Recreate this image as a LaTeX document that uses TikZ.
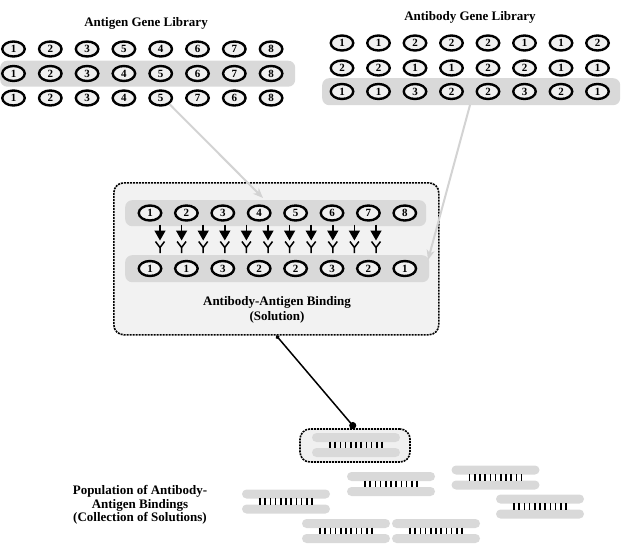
\documentclass[tikz,border=0pt]{standalone}
\usepackage{fontspec}
\setmainfont{Liberation Serif}
\usetikzlibrary{shapes.geometric,arrows.meta}
\definecolor{bandgray}{HTML}{D9D9D9}
\definecolor{ovalfill}{HTML}{F0F0F0}
\definecolor{boxfill}{HTML}{F2F2F2}
\definecolor{linkgray}{HTML}{D3D3D3}
\begin{document}
\begin{tikzpicture}[x=1pt,y=-1pt,
  gene/.style={ellipse,draw=black,line width=2.4pt,fill=ovalfill,minimum width=22.5pt,minimum height=15pt,inner sep=0pt,font=\fontsize{11}{11}\selectfont\bfseries},
  bandbox/.style={fill=bandgray,rounded corners=7pt,draw=none,inner sep=0pt,anchor=north west},
  titletext/.style={font=\fontsize{13}{15}\selectfont\bfseries,align=center,inner sep=0pt},
  dashbox/.style={draw=black,dash pattern=on 2pt off 1pt,line width=1.6pt,fill=boxfill,rounded corners=10pt,inner sep=0pt},
  graylink/.style={draw=linkgray,line width=2pt,-{Stealth[length=10pt,width=8pt,inset=3pt]}},
  bar/.style={fill=bandgray,rounded corners=4.5pt,minimum width=88pt,minimum height=9pt,inner sep=0pt},
  tick/.style={line width=1.6pt},
  binding/.pic={
    \node[bar] (-top) at (0,-7.5) {};
    \node[bar] (-bot) at (0,7.5) {};
    \foreach \k in {0,...,10} \draw[tick] ({-26+5.2*\k},-3.3) -- ++(0,6.6);
  }]
\useasboundingbox (0,0) rectangle (631,544);

% ---------- Antigen gene library ----------
\node[titletext] (agtitle) at (146,23) {Antigen Gene Library};
\node[bandbox,minimum width=295pt,minimum height=26pt] (agband) at (0,60.5) {};
\foreach \d [count=\i] in {1,2,3,5,4,6,7,8}
  \node[gene] (ag1-\i) at ({13.5+36.8*(\i-1)},49) {\d};
\foreach \d [count=\i] in {1,2,3,4,5,6,7,8}
  \node[gene] (ag2-\i) at ({13.5+36.8*(\i-1)},73.5) {\d};
\foreach \d [count=\i] in {1,2,3,4,5,7,6,8}
  \node[gene] (ag3-\i) at ({13.5+36.8*(\i-1)},98) {\d};

% ---------- Antibody gene library ----------
\node[titletext] (abtitle) at (470,17) {Antibody Gene Library};
\node[bandbox,minimum width=298pt,minimum height=27pt] (abband) at (322,78) {};
\foreach \d [count=\i] in {1,1,2,2,2,1,1,2}
  \node[gene] (ab1-\i) at ({342+36.5*(\i-1)},43) {\d};
\foreach \d [count=\i] in {2,2,1,1,2,2,1,1}
  \node[gene] (ab2-\i) at ({342+36.5*(\i-1)},68) {\d};
\foreach \d [count=\i] in {1,1,3,2,2,3,2,1}
  \node[gene] (ab3-\i) at ({342+36.5*(\i-1)},91.5) {\d};

% ---------- Antibody-antigen binding (solution) ----------
\node[dashbox,minimum width=325pt,minimum height=152pt,anchor=north west] (solbox) at (113,182) {};
\node[bandbox,minimum width=301pt,minimum height=26pt] (solbandA) at (125,200) {};
\node[bandbox,minimum width=304pt,minimum height=27pt] (solbandB) at (125,255) {};
\foreach \d [count=\i] in {1,2,3,4,5,6,7,8}
  \node[gene] (sa-\i) at ({150+36.4*(\i-1)},213) {\d};
\foreach \d [count=\i] in {1,1,3,2,2,3,2,1}
  \node[gene] (sb-\i) at ({150+36.4*(\i-1)},268.5) {\d};
\foreach \j in {0,...,10} {
  \draw[line width=1.5pt,-{Triangle[width=11pt,length=10pt]}] ({160+21.6*\j},224.5) -- ++(0,16);
  \draw[line width=1.5pt] ({160+21.6*\j-4.5},241.5) -- ++(4.5,6) -- ++(4.5,-6)
        ({160+21.6*\j},247.5) -- ++(0,5.5);
}
\node[titletext] (soltitle) at (277,309.5) {Antibody-Antigen Binding\\(Solution)};

% ---------- gray connectors ----------
\coordinate (agin) at (263,198);
\coordinate (about) at (470,105);
\coordinate (abin) at (428,260);
\draw[graylink] (ag3-5.south east) -- (agin);
\draw[graylink] (about) -- (abin);

% ---------- population ----------
\node[dashbox,fill=ovalfill,minimum width=110pt,minimum height=33pt] (pairbox) at (355,445.5) {};
\pic (b1) at (356,445) {binding};
\pic (b2) at (391,484) {binding};
\pic (b3) at (495.5,477.5) {binding};
\pic (b4) at (286,501.5) {binding};
\pic (b5) at (540,506.5) {binding};
\pic (b6) at (346,531) {binding};
\pic (b7) at (436,531) {binding};

\draw[line width=1.5pt,{Circle[length=4pt]}-{Circle[length=7pt]}] (solbox.south) -- (pairbox.north);

\node[font=\fontsize{13}{13.4}\selectfont\bfseries,align=center,inner sep=0pt] (poptext) at (140,505)
  {Population of Antibody-\\Antigen Bindings\\(Collection of Solutions)};
\end{tikzpicture}
\end{document}
